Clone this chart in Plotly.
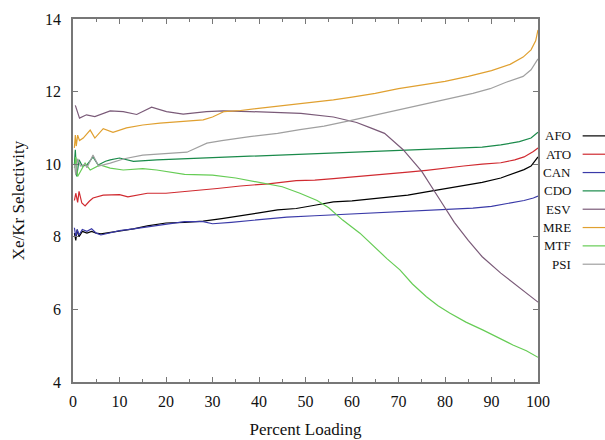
import plotly.graph_objects as go

# Xe/Kr selectivity versus percent loading for eight frameworks
afo_x = [0.3, 0.6, 0.9, 1.3, 2, 3, 4, 5, 6, 8, 10, 13, 16, 20, 24, 28, 32, 36, 40, 44, 48, 52,
         56, 60, 64, 68, 72, 76, 80, 84, 88, 92, 95, 97, 98.5, 99.5, 100]
afo_y = [8.1, 7.9, 8.2, 8.0, 8.15, 8.1, 8.15, 8.1, 8.08, 8.12, 8.15, 8.22, 8.3, 8.38, 8.4, 8.43,
         8.5, 8.57, 8.66, 8.74, 8.78, 8.87, 8.96, 8.99, 9.04, 9.1, 9.15, 9.24, 9.32, 9.4, 9.5,
         9.62, 9.75, 9.85, 9.95, 10.1, 10.2]

ato_x = [0.3, 0.6, 1.0, 1.3, 1.9, 2.6, 3.5, 4.3, 6.5, 10, 11.8, 14, 16, 20, 26, 31, 36, 42, 48,
         52, 56, 62, 67, 72, 76, 80, 84, 88, 92, 95, 97, 99, 100]
ato_y = [9.0, 9.2, 8.95, 9.25, 8.93, 8.85, 8.98, 9.07, 9.15, 9.16, 9.1, 9.15, 9.2, 9.2, 9.26,
         9.33, 9.4, 9.46, 9.55, 9.56, 9.6, 9.66, 9.72, 9.78, 9.83, 9.9, 9.95, 10.0, 10.04, 10.12,
         10.2, 10.35, 10.45]

can_x = [0.3, 0.6, 0.9, 1.3, 2, 3, 4, 5, 6, 8, 10, 13, 16, 20, 24, 28, 30, 34, 40, 46, 52, 58,
         64, 70, 76, 82, 86, 90, 94, 97, 99, 100]
can_y = [8.25, 8.0, 8.2, 8.05, 8.2, 8.15, 8.22, 8.1, 8.05, 8.1, 8.17, 8.22, 8.28, 8.34, 8.42,
         8.42, 8.36, 8.4, 8.48, 8.54, 8.58, 8.62, 8.66, 8.68, 8.72, 8.78, 8.79, 8.84, 8.92, 9.0,
         9.07, 9.12]

cdo_x = [0.3, 0.5, 0.8, 1.3, 2, 3, 4.3, 5.4, 7, 8, 10, 13, 18, 24, 30, 40, 50, 60, 70, 80, 88,
         92, 96, 98.5, 100]
cdo_y = [10.0, 10.4, 9.66, 10.12, 9.95, 9.98, 10.2, 9.98, 10.08, 10.12, 10.17, 10.08, 10.12,
         10.15, 10.18, 10.23, 10.28, 10.33, 10.38, 10.42, 10.47, 10.53, 10.62, 10.72, 10.88]

esv_x = [0.5, 1.4, 2.9, 4.7, 8, 10.8, 13.7, 16.9, 20.1, 23.7, 28.7, 32.3, 38, 44, 49, 56, 61,
         64, 67, 71, 75, 79, 82, 85, 88, 92, 96, 100]
esv_y = [11.62, 11.27, 11.36, 11.31, 11.47, 11.45, 11.37, 11.57, 11.45, 11.38, 11.45, 11.47,
         11.45, 11.42, 11.4, 11.3, 11.15, 11.0, 10.85, 10.4, 9.8, 9.0, 8.4, 7.9, 7.45, 7.0, 6.6,
         6.2]

mre_x = [0.3, 0.5, 0.7, 1, 1.4, 2.2, 3.7, 4.7, 6.5, 8.6, 11.5, 15, 18.7, 23, 28, 30, 32.5, 36,
         40, 45, 50, 56, 60, 65, 70, 75, 80, 85, 90, 94, 96.8, 98.5, 99.5, 100]
mre_y = [10.45, 10.8, 10.5, 10.8, 10.65, 10.72, 10.94, 10.72, 10.98, 10.88, 11.0, 11.08, 11.13,
         11.18, 11.22, 11.3, 11.45, 11.48, 11.54, 11.6, 11.68, 11.77, 11.85, 11.95, 12.08,
         12.18, 12.28, 12.42, 12.58, 12.75, 12.95, 13.15, 13.4, 13.7]

mtf_x = [0.3, 0.6, 1, 1.6, 2.6, 3.7, 5.8, 8, 10.8, 15, 18, 24, 30, 35, 40, 45, 48.8, 52.5, 55,
         58, 61.7, 64.5, 67.5, 70.3, 73, 76, 78.5, 81, 84.5, 88.2, 91.5, 94.6, 97.5, 100]
mtf_y = [9.9, 10.2, 9.66, 9.8, 10.03, 9.84, 9.98, 9.89, 9.84, 9.88, 9.84, 9.72, 9.7, 9.62, 9.5,
         9.38, 9.2, 9.0, 8.8, 8.46, 8.1, 7.75, 7.4, 7.09, 6.7, 6.35, 6.1, 5.9, 5.65, 5.43, 5.22,
         5.02, 4.86, 4.68]

psi_x = [0.3, 0.6, 1, 1.6, 2.6, 3, 4.3, 5.5, 8, 11, 15, 20, 24.5, 28.8, 32, 38, 44, 48.8, 54,
         59.6, 65, 70.3, 75, 81, 86, 89.7, 93, 96.8, 98.5, 100]
psi_y = [10.0, 9.7, 10.15, 9.95, 10.0, 9.9, 10.25, 9.95, 10.03, 10.15, 10.25, 10.3, 10.33,
         10.58, 10.65, 10.76, 10.85, 10.95, 11.05, 11.2, 11.35, 11.5, 11.63, 11.8, 11.95,
         12.08, 12.25, 12.42, 12.6, 12.9]

names = ["AFO", "ATO", "CAN", "CDO", "ESV", "MRE", "MTF", "PSI"]
xs = [afo_x, ato_x, can_x, cdo_x, esv_x, mre_x, mtf_x, psi_x]
ys = [afo_y, ato_y, can_y, cdo_y, esv_y, mre_y, mtf_y, psi_y]
colors = ["#000000", "#d02a30", "#3a3aa8", "#1a8a4a", "#7a5a78", "#e0a030", "#66cc55", "#a0a0a0"]

x_ticks = [0, 10, 20, 30, 40, 50, 60, 70, 80, 90, 100]
y_ticks = [4, 6, 8, 10, 12, 14]

font_family = "'Liberation Serif', 'Times New Roman', serif"

fig = go.Figure()
for name, x, y, c in zip(names, xs, ys, colors):
    fig.add_trace(go.Scatter(x=x, y=y, mode="lines", name=name,
                             line=dict(color=c, width=1.2), showlegend=False))

# Legend drawn at the right: label right-aligned, line sample after it
leg_top = 0.678
leg_step = 0.0505
for i, (name, c) in enumerate(zip(names, colors)):
    yy = leg_top - i * leg_step
    fig.add_annotation(x=1.075, y=yy, xref="paper", yref="paper", text=name,
                       showarrow=False, xanchor="right", yanchor="middle",
                       font=dict(family=font_family, size=13, color="#111111"))
    fig.add_shape(type="line", xref="paper", yref="paper", x0=1.096, x1=1.145,
                  y0=yy, y1=yy, line=dict(color=c, width=1.2))

axis_common = dict(
    showline=True, linecolor="#777777", linewidth=1.5, mirror="ticks",
    ticks="inside", tickcolor="#777777", ticklen=5, tickwidth=1,
    showgrid=False, zeroline=False, automargin=False,
    tickfont=dict(family=font_family, size=16, color="#111111"),
)

fig.update_layout(
    width=605, height=440,
    margin=dict(l=73, r=67, t=19, b=58),
    paper_bgcolor="white", plot_bgcolor="white",
    xaxis=dict(range=[0, 100], tickvals=x_ticks, ticklabelstandoff=4,
               minor=dict(dtick=5, ticks="inside", ticklen=3, tickcolor="#777777"),
               title=dict(text="Percent Loading", standoff=14,
                          font=dict(family=font_family, size=17, color="#111111")),
               **axis_common),
    yaxis=dict(range=[4, 14], tickvals=y_ticks, ticklabelstandoff=7,
               title=dict(text="Xe/Kr Selectivity", standoff=16,
                          font=dict(family=font_family, size=17, color="#111111")),
               **axis_common),
)

fig.write_html("out.html")
